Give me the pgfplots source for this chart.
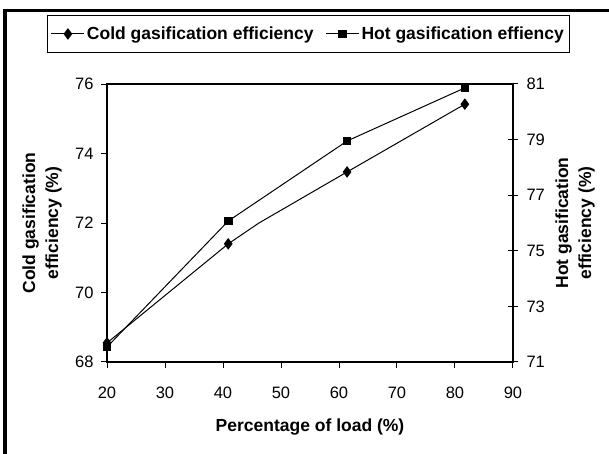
\documentclass[border=0pt]{standalone}
\usepackage{pgfplots}
\pgfplotsset{compat=1.18}
\usepackage{fontspec}
\setmainfont{Liberation Sans}
\begin{document}
\begin{tikzpicture}[x=1pt,y=1pt]
\useasboundingbox (0,0) rectangle (609,454);
\fill[white] (0,0) rectangle (609,454);
\draw[line width=3.5pt] (5.2,-5) -- (5.2,443.5) -- (615,443.5);
\begin{axis}[
  at={(107pt,92pt)}, anchor=south west,
  scale only axis, width=406pt, height=278pt,
  xmin=20, xmax=90, ymin=68, ymax=76,
  xtick={20,30,...,90}, ytick={68,70,...,76},
  xtick pos=left, ytick pos=left,
  tick align=outside, major tick length=6pt,
  axis line style={line width=2.2pt},
  tick style={line width=1pt,black},
  /pgf/number format/assume math mode=true,
  ticklabel style={font=\fontsize{16.5}{16.5}\selectfont},
  xticklabel style={yshift=-15pt},
  yticklabel style={xshift=-4pt},
  xlabel={Percentage of load (\%)},
  xlabel style={font=\bfseries\fontsize{17.5}{20}\selectfont, at={(axis description cs:0.5,-0.234)}, anchor=center},
  ylabel={Cold gasification\\efficiency (\%)},
  ylabel style={font=\bfseries\fontsize{17.5}{23}\selectfont, align=center, at={(axis description cs:-0.160,0.5)}, anchor=center},
  clip=false,
  legend columns=2,
  legend style={at={(0.496,1.18)}, anchor=center, draw=black, line width=1pt,
    font=\bfseries\fontsize{17.5}{20}\selectfont, inner xsep=3.5pt, inner ysep=9.5pt,
    /tikz/every even column/.append style={column sep=10pt}},
  legend cell align=left,
  legend image code/.code={\draw[mark repeat=2,mark phase=2,#1] plot coordinates {(0pt,0pt) (16.5pt,0pt) (33pt,0pt)};},
]
\addplot[black, line width=1pt, mark=diamond*, mark size=5pt, mark indices={1,2,4,5}, forget plot] coordinates {
  (20,68.55) (40.9,71.40) (46.2,72.0) (61.4,73.47) (81.7,75.42)
};
\addlegendimage{black, line width=1pt, mark=diamond*, mark size=5pt}
\addlegendentry{Cold gasification efficiency}
\addlegendimage{black, line width=1pt, mark=square*, mark size=3.8pt}
\addlegendentry{Hot gasification effiency}
\end{axis}
\begin{axis}[
  at={(107pt,92pt)}, anchor=south west,
  scale only axis, width=406pt, height=278pt,
  xmin=20, xmax=90, ymin=71, ymax=81,
  ytick={71,73,...,81},
  axis x line=none, axis y line*=right,
  tick align=center, major tick length=10pt,
  axis line style={line width=2.2pt},
  tick style={line width=1pt,black},
  /pgf/number format/assume math mode=true,
  ticklabel style={font=\fontsize{16.5}{16.5}\selectfont},
  yticklabel style={xshift=5pt},
  ylabel={Hot gasification\\efficiency (\%)},
  ylabel style={font=\bfseries\fontsize{17.5}{23}\selectfont, align=center, at={(axis description cs:1.153,0.5)}, anchor=center, rotate=0},
  clip=false,
]
\addplot[black, line width=1pt, mark=square*, mark size=3.8pt] coordinates {
  (20,71.54) (40.9,76.07) (61.4,78.95) (81.7,80.86)
};
\end{axis}
\end{tikzpicture}
\end{document}
